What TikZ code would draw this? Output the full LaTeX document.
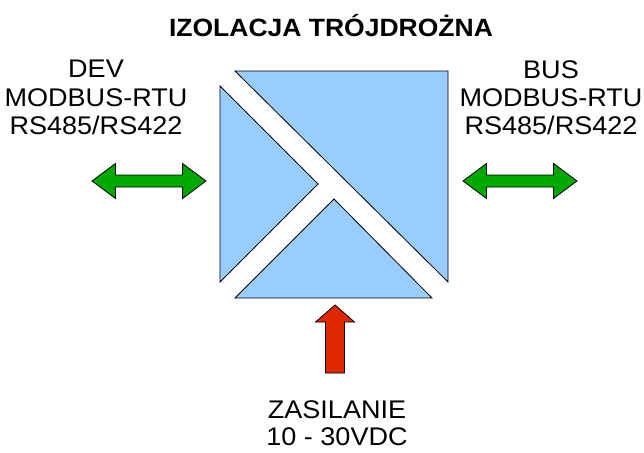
\documentclass[tikz,border=0pt]{standalone}
\usepackage{fontspec}
\setmainfont{Liberation Sans}[FakeStretch = 1.06]
\usetikzlibrary{positioning}

\definecolor{isoblue}{RGB}{153,204,255}
\definecolor{fatgreen}{RGB}{0,168,0}
\definecolor{fatred}{RGB}{221,40,0}

\begin{document}
\begin{tikzpicture}[x=1pt, y=-1pt,
  part/.style = {draw, fill = isoblue, line width = .8pt, line join = miter},
  fat/.style = {draw, line width = .8pt, line join = miter},
  sidetext/.style = {align = center, inner sep = 0pt, anchor = north,
    font = \fontsize{25.5}{28.3}\selectfont}]
  \useasboundingbox (0, 0) rectangle (644, 452);

  \node[anchor = north, inner sep = 0pt, font = \fontsize{25}{30}\selectfont\bfseries]
    (title) at (331, 14) {IZOLACJA TRÓJDROŻNA};

  % three parts of the isolator
  \draw[part] (235, 71) -- (448, 71) -- (448, 282) -- cycle;
  \draw[part] (220, 86) -- (318, 184) -- (220, 282) -- cycle;
  \draw[part] (334, 199) -- (432, 298) -- (235, 298) -- cycle;

  \node[sidetext] (dev) at (96, 60) {DEV\\MODBUS-RTU\\RS485/RS422};
  \node[sidetext] (bus) at (551, 60) {BUS\\MODBUS-RTU\\RS485/RS422};
  \node[sidetext, font = \fontsize{25.5}{27.5}\selectfont]
    (power) at (337, 400) {ZASILANIE\\10 - 30VDC};

  \coordinate (devtip) at (92, 181);
  \coordinate (bustip) at (463, 181);
  \coordinate (powertip) at (335, 305);

  \draw[fat, fill = fatgreen] (devtip) -- ++(23.5, -17.5) -- ++(0, 11.5)
    -- ++(67, 0) -- ++(0, -11.5) -- ++(23.5, 17.5) -- ++(-23.5, 17.5)
    -- ++(0, -11.5) -- ++(-67, 0) -- ++(0, 11.5) -- cycle;
  \draw[fat, fill = fatgreen] (bustip) -- ++(23.5, -17.5) -- ++(0, 11.5)
    -- ++(67, 0) -- ++(0, -11.5) -- ++(23.5, 17.5) -- ++(-23.5, 17.5)
    -- ++(0, -11.5) -- ++(-67, 0) -- ++(0, 11.5) -- cycle;
  \draw[fat, fill = fatred] (powertip) -- ++(19.5, 17) -- ++(-10, 0)
    -- ++(0, 51) -- ++(-19, 0) -- ++(0, -51) -- ++(-10, 0) -- cycle;
\end{tikzpicture}
\end{document}
